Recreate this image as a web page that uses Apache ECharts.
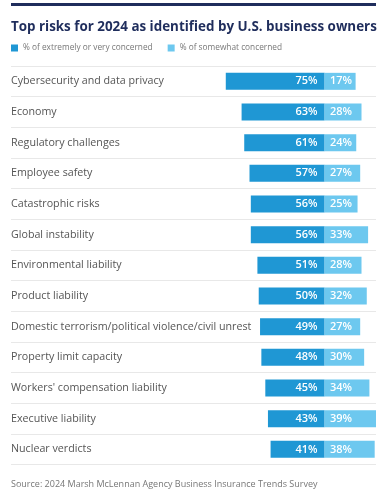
<!DOCTYPE html>
<html><head><meta charset="utf-8">
<script src="https://cdn.jsdelivr.net/npm/echarts@6/dist/echarts.min.js"></script>
<style>html,body{margin:0;padding:0;background:#fff}#c{width:380px;height:496px}</style>
</head><body><div id="c"></div>
<script>
const categories = ["Cybersecurity and data privacy","Economy","Regulatory challenges","Employee safety","Catastrophic risks","Global instability","Environmental liability","Product liability","Domestic terrorism/political violence/civil unrest","Property limit capacity","Workers' compensation liability","Executive liability","Nuclear verdicts"];
const extremelyConcerned = [75,63,61,57,56,56,51,50,49,48,45,43,41];
const somewhatConcerned = [17,28,24,27,25,33,28,32,27,30,34,39,38];
const seriesNames = ["% of extremely or very concerned","% of somewhat concerned"];

const chart = echarts.init(document.getElementById('c'), null, {renderer:'canvas'});
const FONT = '"Open Sans", sans-serif';
chart.setOption({
  animation:false,
  textStyle:{fontFamily:FONT},
  title:[{
    text:'Top risks for 2024 as identified by U.S. business owners',
    left:11, top:21, padding:0,
    textStyle:{fontFamily:FONT,fontSize:13.4,fontWeight:'bold',color:'#1f2d5c'}
  },{
    text:'Source: 2024 Marsh McLennan Agency Business Insurance Trends Survey',
    left:11, top:480, padding:0,
    textStyle:{fontFamily:FONT,fontSize:9,fontWeight:'normal',color:'#777'}
  }],
  graphic:[{type:'rect',left:11,top:3,shape:{width:365,height:3},style:{fill:'#1f2d5c'},silent:true}],
  legend:{
    left:11, top:44, padding:0, icon:'rect', itemWidth:7, itemHeight:7, itemGap:15,
    textStyle:{fontFamily:FONT,fontSize:8.3,color:'#777'},
    data:seriesNames
  },
  grid:{left:11, top:66, width:365, height:398.7, containLabel:false},
  xAxis:{type:'value', min:-238, max:39, show:false},
  yAxis:{
    type:'category', data:categories, inverse:true,
    axisLine:{show:false}, axisTick:{show:false},
    axisLabel:{inside:true, margin:0, fontFamily:FONT, fontSize:10.7, color:'#555'},
    splitLine:{show:true, lineStyle:{color:'#e8e8e8', width:1}}
  },
  series:[{
    name:seriesNames[0], type:'bar', stack:'t', barWidth:17,
    data:extremelyConcerned.map(v=>-v),
    itemStyle:{color:'#1f97d4'},
    label:{show:true, position:'insideRight', distance:7, formatter:p=>Math.abs(p.value)+'%',
      color:'#fff', fontFamily:FONT, fontSize:11, fontWeight:600}
  },{
    name:seriesNames[1], type:'bar', stack:'t', barWidth:17, barMinHeight:31,
    data:somewhatConcerned,
    itemStyle:{color:'#6dc8ef'},
    label:{show:true, position:[27.5,'50%'], align:'right', verticalAlign:'middle', formatter:p=>p.value+'%',
      color:'#fff', fontFamily:FONT, fontSize:11, fontWeight:600}
  }]
});
</script></body></html>
